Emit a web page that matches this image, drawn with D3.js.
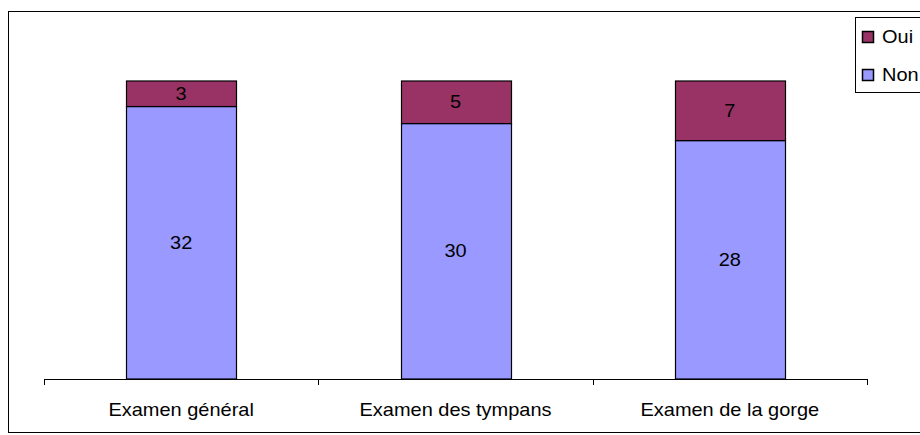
<!DOCTYPE html>
<html>
<head>
<meta charset="utf-8">
<script src="https://cdn.jsdelivr.net/npm/d3@7"></script>
<style>
  body { margin: 0; background: #fff; }
  text { font-family: "Liberation Sans", Arial, sans-serif; }
</style>
</head>
<body>
<svg id="chart" width="920" height="435"></svg>
<script>
let categories = ["Examen général", "Examen des tympans", "Examen de la gorge"]
let oui = [3, 5, 7]
let non = [32, 30, 28]
let seriesNames = ["Oui", "Non"]
let colors = { "Oui": "#993366", "Non": "#9999FF" }

var fontSize = 18
var stretch = 1.11   // the picture text is a bit wider than plain Arial

var svg = d3.select("#chart")

// put a text at (x, y) with a small horizontal stretch
function addText(parent, x, y, str, anchor) {
    return parent.append("text")
        .attr("transform", `translate(${x},${y}) scale(${stretch},1)`)
        .attr("text-anchor", anchor || "middle")
        .attr("font-size", fontSize + "px")
        .attr("fill", "#000")
        .text(str)
}

// outer frame (right edge runs off the page)
svg.append("rect")
    .attr("x", 8.5).attr("y", 11.5)
    .attr("width", 940).attr("height", 421)
    .attr("fill", "none").attr("stroke", "#000").attr("stroke-width", 1)

var plotLeft = 44, plotRight = 867, plotTop = 81, plotBottom = 379

var x = d3.scaleBand()
    .domain(categories)
    .range([plotLeft, plotRight])
    .paddingInner(0.6)
    .paddingOuter(0.3)

var y = d3.scaleLinear()
    .domain([0, 35])
    .range([plotBottom, plotTop])

let rows = categories.map((c, i) => ({ cat: c, Non: non[i], Oui: oui[i] }))
let stacked = d3.stack().keys(["Non", "Oui"])(rows)

stacked.forEach(layer => {
    let g = svg.append("g")
    g.selectAll("rect")
        .data(layer)
        .enter().append("rect")
        .attr("x", d => Math.round(x(d.data.cat)) + 0.5)
        .attr("y", d => y(d[1]))
        .attr("width", Math.round(x.bandwidth()))
        .attr("height", d => y(d[0]) - y(d[1]))
        .attr("fill", colors[layer.key])
        .attr("stroke", "#000")
        .attr("stroke-width", 1.2)

    layer.forEach(d => {
        addText(g, x(d.data.cat) + x.bandwidth() / 2, (y(d[0]) + y(d[1])) / 2 + 6, d.data[layer.key])
    })
})

// category axis
var axisX = d3.scaleLinear().domain([0, 3]).range([plotLeft, plotRight])
svg.append("line")
    .attr("x1", axisX(0)).attr("x2", axisX(3))
    .attr("y1", plotBottom + 0.5).attr("y2", plotBottom + 0.5)
    .attr("stroke", "#000")
svg.selectAll(".tick")
    .data([0, 1, 2, 3])
    .enter().append("line")
    .attr("class", "tick")
    .attr("x1", d => Math.round(axisX(d)) + 0.5).attr("x2", d => Math.round(axisX(d)) + 0.5)
    .attr("y1", plotBottom).attr("y2", plotBottom + 6)
    .attr("stroke", "#000")

categories.forEach(c => {
    addText(svg, x(c) + x.bandwidth() / 2, 416, c)
})

// legend
var legend = svg.append("g")
legend.append("rect")
    .attr("x", 855.5).attr("y", 17.5)
    .attr("width", 100).attr("height", 75)
    .attr("fill", "#fff").attr("stroke", "#000")

seriesNames.forEach((s, i) => {
    legend.append("rect")
        .attr("x", 862.5).attr("y", 31.5 + i * 38)
        .attr("width", 11).attr("height", 11)
        .attr("fill", colors[s]).attr("stroke", "#000").attr("stroke-width", 1.5)
    addText(legend, 882, 43 + i * 38, s, "start")
})
</script>
</body>
</html>
